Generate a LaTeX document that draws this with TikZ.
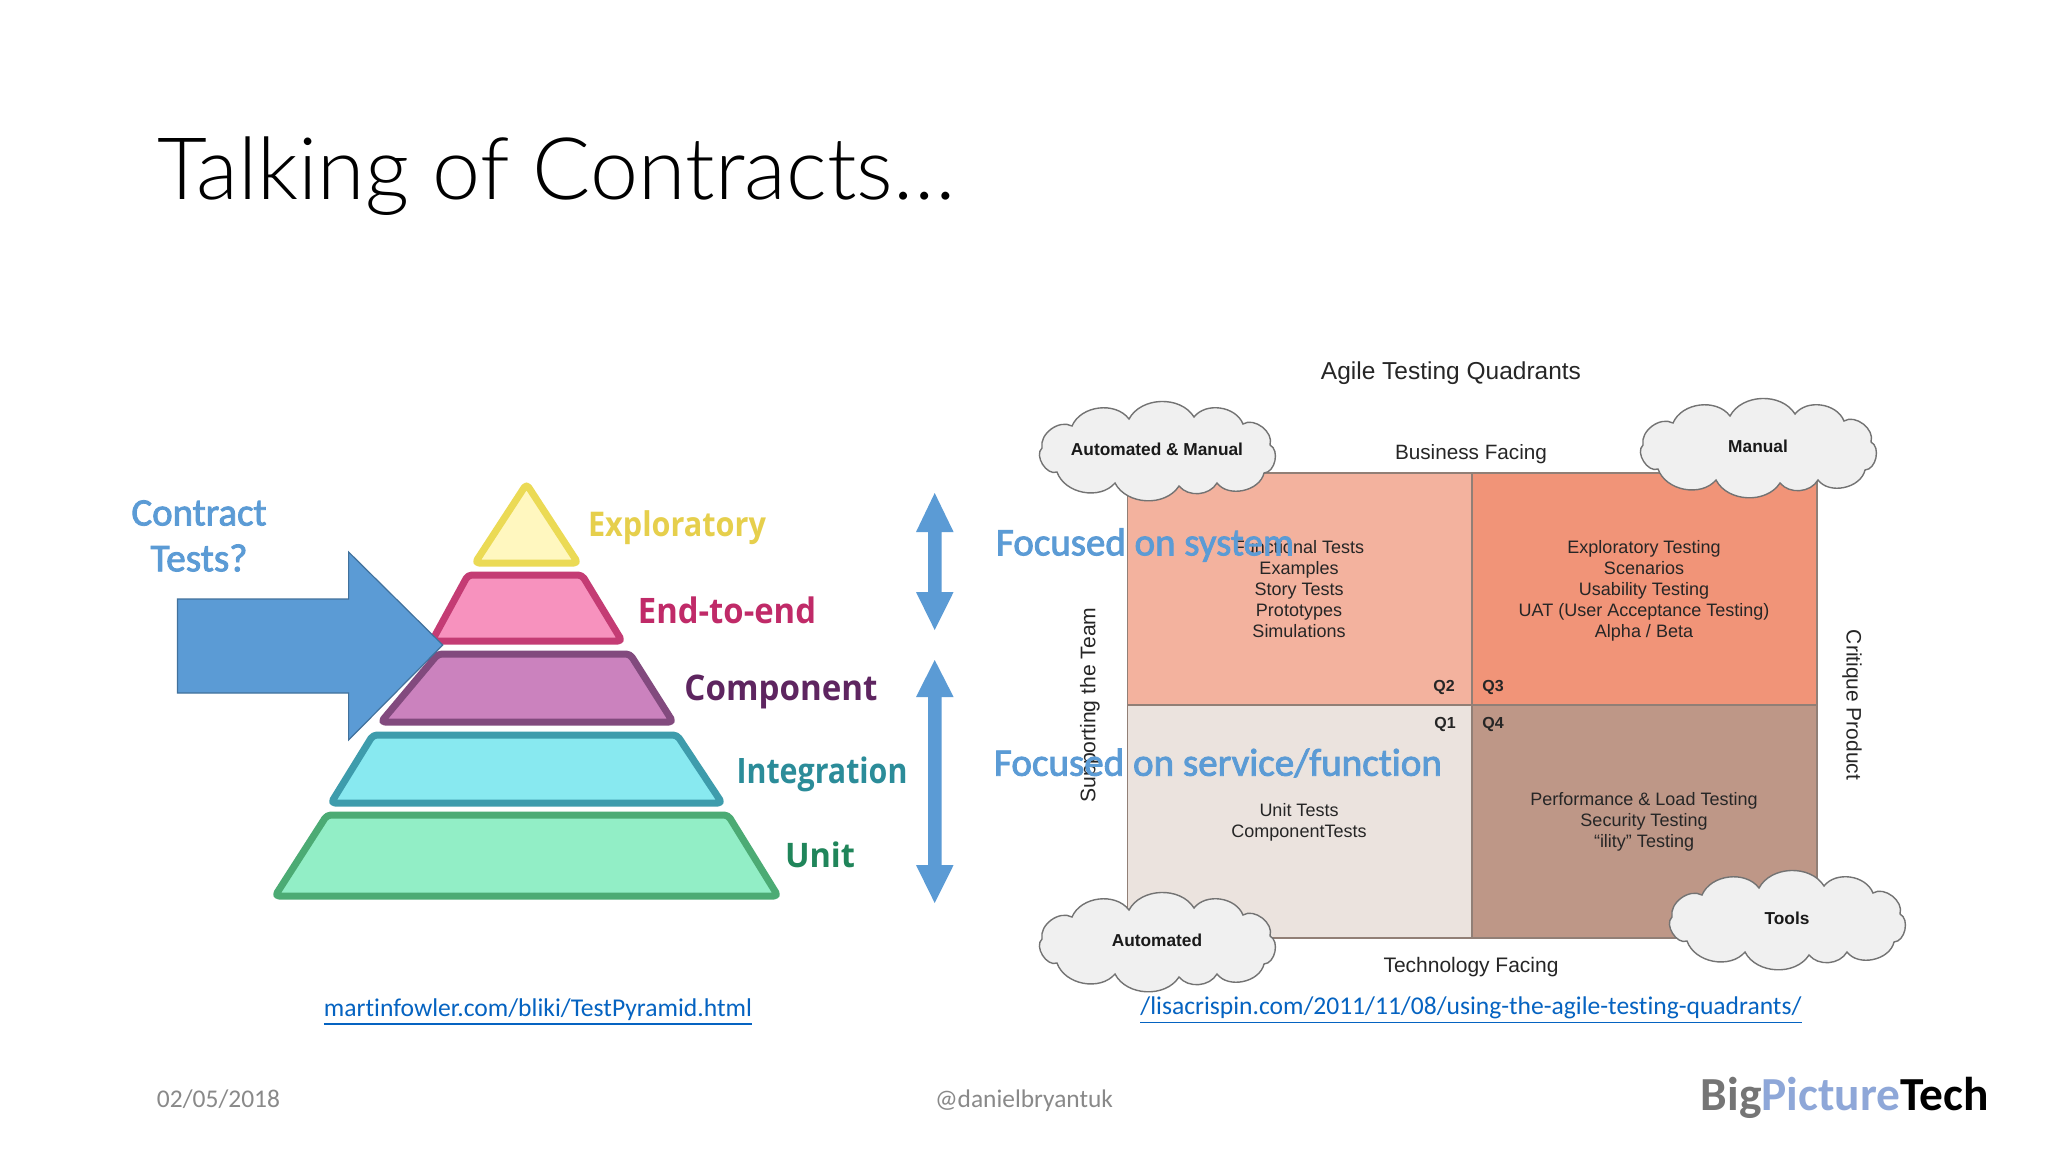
\documentclass[tikz,border=0pt]{standalone}
\usepackage{fontspec}
\usepackage{graphicx}
\setmainfont[RawFeature=-liga]{Carlito}
\newfontfamily\semifont[FakeBold=2.2,RawFeature=-liga]{Carlito}
\newfontfamily\arial{Liberation Sans}
\newfontfamily\opensans{Open Sans}
\newfontfamily\lightfont{Lato Light}
\definecolor{blueA}{HTML}{5B9BD5}
\definecolor{blueB}{HTML}{41719C}
\definecolor{linkc}{HTML}{0563C1}
\definecolor{greyf}{HTML}{898989}
\definecolor{yF}{HTML}{FFF7BF}\definecolor{yS}{HTML}{EBDA55}\definecolor{yT}{HTML}{E6CF4C}
\definecolor{pF}{HTML}{F792BE}\definecolor{pS}{HTML}{C43C74}\definecolor{pT}{HTML}{C02A68}
\definecolor{vF}{HTML}{CB82BE}\definecolor{vS}{HTML}{824A7E}\definecolor{vT}{HTML}{5E2560}
\definecolor{cF}{HTML}{88E9F0}\definecolor{cS}{HTML}{3E9CAC}\definecolor{cT}{HTML}{2B8C99}
\definecolor{gF}{HTML}{92EEC6}\definecolor{gS}{HTML}{4CAB74}\definecolor{gT}{HTML}{20855A}
\definecolor{q1c}{HTML}{EBE3DE}\definecolor{q2c}{HTML}{F3B29E}\definecolor{q3c}{HTML}{F19478}\definecolor{q4c}{HTML}{BE9787}
\definecolor{qline}{HTML}{917F76}
\definecolor{picblue}{HTML}{8EA7D8}
\newcommand{\fitw}[2]{\resizebox{#1pt}{!}{#2}}
\newcommand{\fitwh}[3]{\resizebox*{#1pt}{#2pt}{#3}}
\newcommand{\mycloud}[4]{%
  \draw[cloudst,shift={(#1,#2)}] (-115,-2) to[bend left=65] (-85,-24) to[bend left=60] (-28,-31)
    to[bend left=60] (37,-33) to[bend left=60] (86,-26) to[bend left=70] (113,-5)
    to[bend left=75] (107,23) to[bend left=65] (60,33) to[bend left=55] (22,36)
    to[bend left=60] (-42,33) to[bend left=60] (-100,22) to[bend left=80] cycle;
  \node[cloudtxt] (#3) at (#1,#2-1) {#4};}
\tikzset{
  x=1pt,y=-1pt,
  lvl/.style={line width=7pt,rounded corners=4pt,line join=round},
  lab/.style={inner sep=0pt,outer sep=0pt,font=\opensans\bfseries},
  arrowblue/.style={fill=blueA,draw=none},
  quad/.style={draw=qline,line width=1.2pt},
  qtxt/.style={inner sep=0pt,font=\arial\fontsize{18}{21}\selectfont,text=black!85,align=center},
  qnum/.style={inner sep=0pt,font=\arial\bfseries\fontsize{16}{18}\selectfont,text=black!85},
  axis/.style={inner sep=0pt,font=\arial,text=black!85},
  cloudst/.style={fill=black!6,draw=black!55,line width=1.4pt},
  cloudtxt/.style={inner sep=0pt,font=\arial\bfseries\fontsize{17.3}{18}\selectfont,text=black!90},
  focus/.style={inner sep=0pt,text=blueA,font=\semifont},
  linkst/.style={inner sep=0pt,text=linkc},
  foot/.style={inner sep=0pt,text=greyf}
}
\begin{document}
\begin{tikzpicture}
\useasboundingbox (0,0) rectangle (2048,1152);
\fill[white] (0,0) rectangle (2048,1152);
\node[anchor=west,inner sep=0pt] (title) at (157,176) {\fitw{798}{\lightfont Talking of Contracts…}};
% pyramid
\draw[lvl,fill=yF,draw=yS] (526.5,484) -- (578,563) -- (475,563) -- cycle;
\draw[lvl,fill=pF,draw=pS] (468,575) -- (582,575) -- (622,641) -- (432,641) -- cycle;
\draw[lvl,fill=vF,draw=vS] (438,654) -- (630,654) -- (673,722) -- (381,722) -- cycle;
\draw[lvl,fill=cF,draw=cS] (373,735) -- (677,735) -- (722,803) -- (331,803) -- cycle;
\draw[lvl,fill=gF,draw=gS] (327,815) -- (728,815) -- (778,896) -- (275,896) -- cycle;
\node[lab,text=yT] (lE) at (677,528) {\fitwh{178}{34}{Exploratory}};
\node[lab,text=pT] (lN) at (727,610) {\fitwh{178}{27}{End-to-end}};
\node[lab,text=vT] (lC) at (781,692) {\fitwh{193}{34}{Component}};
\node[lab,text=cT] (lI) at (822,774) {\fitwh{171}{35}{Integration}};
\node[lab,text=gT] (lU) at (820,855) {\fitwh{70}{26}{Unit}};
% big arrow
\draw[fill=blueA,draw=blueB,line width=1.2pt] (177.5,599) -- (348.6,599) -- (348.6,552) -- (442.7,645) -- (348.6,740) -- (348.6,693) -- (177.5,693) -- cycle;
\node[focus] (c1) at (199,513) {\fitw{135}{Contract}};
\node[focus] (c2) at (199,558) {\fitw{97}{Tests?}};
% double arrows
\fill[arrowblue] (934.7,493) -- (953.6,532) -- (941.5,532) -- (941.5,592) -- (953.6,592) -- (934.7,630) -- (916,592) -- (928,592) -- (928,532) -- (916,532) -- cycle;
\fill[arrowblue] (934.7,660) -- (953.6,697) -- (941.5,697) -- (941.5,865) -- (953.6,865) -- (934.7,903) -- (916,865) -- (928,865) -- (928,697) -- (916,697) -- cycle;
% quadrants
\fill[q2c] (1127.4,473) rectangle (1472,705);
\fill[q3c] (1472,473) rectangle (1817,705);
\fill[q1c] (1127.4,705) rectangle (1472,938);
\fill[q4c] (1472,705) rectangle (1817,938);
\draw[quad] (1127.4,473) rectangle (1817,938) (1472,473) -- (1472,938) (1127.4,705) -- (1817,705);
\node[axis] (agile) at (1451,373) {\fitw{260}{Agile Testing Quadrants}};
\node[axis] (bus) at (1471,454) {\fitw{152}{Business Facing}};
\node[axis] (tech) at (1471,967) {\fitw{175}{Technology Facing}};
\node[axis,rotate=90] (sup) at (1090,705) {\fitw{195}{Supporting the Team}};
\node[axis,rotate=-90] (crit) at (1852,705) {\fitw{150}{Critique Product}};
\node[qtxt] (q2t) at (1299,589) {Functional Tests\\Examples\\Story Tests\\Prototypes\\Simulations};
\node[qtxt] (q3t) at (1644,591) {Exploratory Testing\\Scenarios\\Usability Testing\\UAT (User Acceptance Testing)\\Alpha / Beta};
\node[qtxt] (q1t) at (1299,822) {Unit Tests\\ComponentTests};
\node[qtxt] (q4t) at (1644,822) {Performance \& Load Testing\\Security Testing\\“ility” Testing};
\node[qnum] (q2) at (1444,687) {Q2};
\node[qnum] (q3) at (1493,687) {Q3};
\node[qnum] (q1) at (1445,724) {Q1};
\node[qnum] (q4) at (1493,724) {Q4};
% clouds
\mycloud{1157}{450}{cam}{Automated \& Manual}
\mycloud{1758}{447}{cm}{Manual}
\mycloud{1157}{941}{ca}{Automated}
\mycloud{1787}{919}{ct}{Tools}
% overlays
\node[focus] (f1) at (1145,545) {\fitw{298}{Focused on system}};
\node[focus] (f2) at (1218,763) {\fitw{448}{Focused on service/function}};
\node[linkst] (l1) at (538,1012) {\fitw{428}{\underline{martinfowler.com/bliki/TestPyramid.html}}};
\node[linkst] (l2) at (1471,1010) {\fitw{661}{\underline{/lisacrispin.com/2011/11/08/using-the-agile-testing-quadrants/}}};
\node[foot] (d) at (218.5,1099) {\fitw{123}{02/05/2018}};
\node[foot] (h) at (1024,1101) {\fitw{178}{@danielbryantuk}};
\node[inner sep=0pt,font=\bfseries] (bp) at (1845,1098) {\fitw{288}{\textcolor{black!54}{Big}\textcolor{picblue}{Picture}\textcolor{black}{Tech}}};
\end{tikzpicture}
\end{document}
